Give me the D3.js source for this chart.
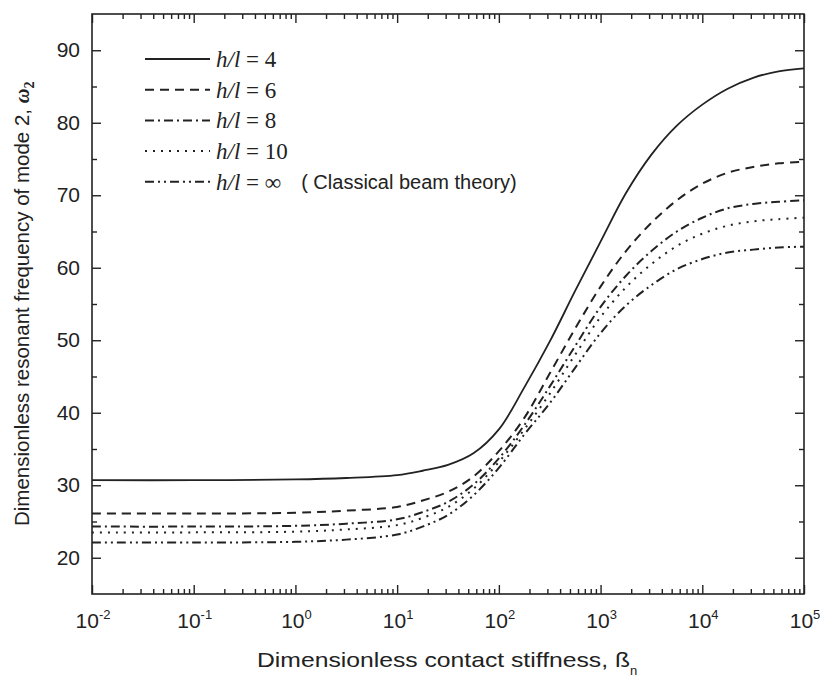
<!DOCTYPE html>
<html><head><meta charset="utf-8">
<script src="https://cdn.jsdelivr.net/npm/d3@7"></script>
<style>body{margin:0;background:#fff}svg{display:block}</style>
</head><body><svg id="chart" width="822" height="679"></svg>
<script>
// ---------- data ----------
const beta = [0.01, 0.1, 1, 3.16, 10, 17.8, 31.6, 56.2, 100, 178, 316, 562, 1000, 1778, 3162, 5623, 10000, 17783, 31623, 56234, 100000];
const omegaHL4  = [30.7,30.7,30.8,31.0,31.4,32.0,32.8,34.4,37.7,43.5,49.8,56.8,63.6,70.3,75.6,79.6,82.5,84.7,86.2,87.1,87.5];
const omegaHL6  = [26.1,26.1,26.2,26.5,27.0,27.9,29.1,31.2,34.7,39.3,45.4,51.6,57.4,62.3,66.2,69.3,71.6,73.1,73.9,74.4,74.6];
const omegaHL8  = [24.3,24.3,24.4,24.7,25.3,26.3,27.7,30.1,33.7,38.3,43.6,49.2,54.6,58.9,62.3,65.0,66.9,68.2,68.8,69.1,69.3];
const omegaHL10 = [23.5,23.5,23.6,23.9,24.5,25.5,27.0,29.5,33.2,37.7,42.6,48.0,53.2,57.3,60.5,63.0,64.7,65.8,66.4,66.7,66.9];
const omegaCBT  = [22.1,22.1,22.2,22.5,23.2,24.3,25.9,28.6,32.4,37.0,41.3,46.2,51.0,54.8,57.6,59.8,61.2,62.1,62.5,62.8,62.9];
const seriesNames = ["4", "6", "8", "10", "\u221E"];
const seriesValues = [omegaHL4, omegaHL6, omegaHL8, omegaHL10, omegaCBT];
const xTickExponents = [-2, -1, 0, 1, 2, 3, 4, 5];
const yTickValues = [20, 30, 40, 50, 60, 70, 80, 90];
const yMinorValues = [25, 35, 45, 55, 65, 75, 85];

// ---------- styles ----------
const dashStyles = ["none", "9,6", "9,4,2,4", "2,6", "9,4,2,4,2,4"];
const ink = "#222";

// ---------- layout ----------
const L = 92, R = 804, T = 14, B = 594;
const svg = d3.select("#chart");
const x = d3.scaleLog().domain([1e-2, 1e5]).range([L, R]);
const y = d3.scaleLinear().domain([15, 95]).range([B, T]);

const majorX = xTickExponents.map(e => Math.pow(10, e));
const minorX = x.ticks().filter(v => !majorX.some(m => Math.abs(m - v) / m < 1e-9));

function styleAxis(g) {
  g.select(".domain").remove();
  g.selectAll(".tick line").attr("stroke", ink).attr("stroke-width", 1.4);
}
// bottom
svg.append("g").attr("transform", `translate(0,${B})`)
  .call(d3.axisBottom(x).tickValues(majorX).tickSize(-9).tickFormat(""))
  .call(styleAxis);
svg.append("g").attr("transform", `translate(0,${B})`)
  .call(d3.axisBottom(x).tickValues(minorX).tickSize(-5).tickFormat(""))
  .call(styleAxis);
// top
svg.append("g").attr("transform", `translate(0,${T})`)
  .call(d3.axisTop(x).tickValues(majorX).tickSize(-9).tickFormat(""))
  .call(styleAxis);
svg.append("g").attr("transform", `translate(0,${T})`)
  .call(d3.axisTop(x).tickValues(minorX).tickSize(-5).tickFormat(""))
  .call(styleAxis);
// left
const yLeft = svg.append("g").attr("transform", `translate(${L},0)`)
  .call(d3.axisLeft(y).tickValues(yTickValues).tickSize(-9).tickPadding(12))
  .call(styleAxis);
yLeft.selectAll(".tick text").attr("font-family", "Liberation Sans, Arial, sans-serif")
  .attr("font-size", 21).attr("fill", ink);
svg.append("g").attr("transform", `translate(${L},0)`)
  .call(d3.axisLeft(y).tickValues(yMinorValues).tickSize(-5).tickFormat(""))
  .call(styleAxis);
// right
svg.append("g").attr("transform", `translate(${R},0)`)
  .call(d3.axisRight(y).tickValues(yTickValues).tickSize(-9).tickFormat(""))
  .call(styleAxis);
svg.append("g").attr("transform", `translate(${R},0)`)
  .call(d3.axisRight(y).tickValues(yMinorValues).tickSize(-5).tickFormat(""))
  .call(styleAxis);

// frame
svg.append("rect").attr("x", L).attr("y", T).attr("width", R - L).attr("height", B - T)
  .attr("fill", "none").attr("stroke", ink).attr("stroke-width", 1.6);

// x tick labels 10^n
const xl = svg.append("g").attr("font-family", "Liberation Sans, Arial, sans-serif").attr("fill", ink);
xTickExponents.forEach(e => {
  const t = xl.append("text").attr("x", x(Math.pow(10, e)) + 1).attr("y", 628)
    .attr("text-anchor", "middle").attr("font-size", 21);
  t.append("tspan").text("10");
  t.append("tspan").attr("font-size", 13).attr("dy", -9).text(String(e));
});

// curves
const line = d3.line().x(d => x(d[0])).y(d => y(d[1])).curve(d3.curveCatmullRom.alpha(0.5));
seriesValues.forEach((vals, i) => {
  svg.append("path").datum(beta.map((b, j) => [b, vals[j]]))
    .attr("d", line).attr("fill", "none").attr("stroke", ink)
    .attr("stroke-width", i === 0 ? 1.8 : 2)
    .attr("stroke-dasharray", dashStyles[i]);
});

// legend
const lg = svg.append("g");
seriesNames.forEach((name, i) => {
  const ry = 59 + i * 30.7;
  lg.append("line").attr("x1", 145).attr("x2", 210).attr("y1", ry).attr("y2", ry)
    .attr("stroke", ink).attr("stroke-width", i === 0 ? 1.8 : 2)
    .attr("stroke-dasharray", dashStyles[i]);
  const t = lg.append("text").attr("x", 216).attr("y", ry + 8)
    .attr("font-family", "Liberation Serif, Times New Roman, serif").attr("font-size", 23).attr("fill", ink);
  t.append("tspan").attr("font-style", "italic").text("h/l");
  t.append("tspan").text(" = " + name);
  if (i === 4) {
    t.append("tspan").attr("font-family", "Liberation Sans, Arial, sans-serif").attr("font-size", 20)
      .attr("dx", 20).attr("dy", -1).text("( Classical beam theory)");
  }
});

// axis titles
const xt = svg.append("text").attr("x", 257).attr("y", 667)
  .attr("font-family", "Liberation Sans, Arial, sans-serif").attr("font-size", 21).attr("fill", ink);
xt.append("tspan").attr("textLength", 373).attr("lengthAdjust", "spacingAndGlyphs")
  .text("Dimensionless contact stiffness, \u00DF");
xt.append("tspan").attr("font-size", 13).attr("dy", 8).text("n");

const yt = svg.append("text").attr("transform", "translate(29,526) rotate(-90)")
  .attr("font-family", "Liberation Sans, Arial, sans-serif").attr("font-size", 20.5).attr("fill", ink);
yt.append("tspan").text("Dimensionless resonant frequency of mode 2, ");
yt.append("tspan").attr("font-family", "Liberation Serif, serif").attr("font-style", "italic")
  .attr("font-weight", "bold").text("\u03C9");
yt.append("tspan").attr("font-family", "Liberation Serif, serif").attr("font-weight", "bold")
  .attr("font-size", 14).attr("dy", 5).text("2");
</script>
</body></html>
